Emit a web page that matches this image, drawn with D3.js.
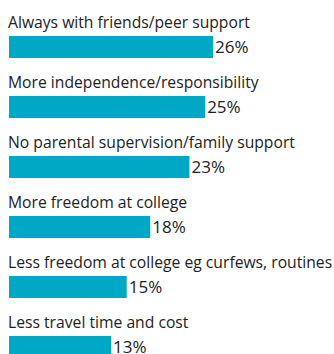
<!DOCTYPE html>
<html>
<head>
<meta charset="utf-8">
<script src="https://cdn.jsdelivr.net/npm/d3@7"></script>
<style>
  html, body { margin: 0; padding: 0; background: #fff; }
  svg { display: block; }
  text { font-family: "Open Sans", "Noto Sans", sans-serif; fill: #222; }
</style>
</head>
<body>
<div id="chart"></div>
<script>
// Reasons given, share of respondents (%)
const categories = [
  "Always with friends/peer support",
  "More independence/responsibility",
  "No parental supervision/family support",
  "More freedom at college",
  "Less freedom at college eg curfews, routines",
  "Less travel time and cost"
];
const values = [26, 25, 23, 18, 15, 13];
const valueLabels = ["26%", "25%", "23%", "18%", "15%", "13%"];

const width = 334, height = 354;
const barColor = "#00a8c6";

const svg = d3.select("#chart").append("svg")
  .attr("width", width)
  .attr("height", height);

// One row per category: label above, bar below
const y = d3.scaleBand()
  .domain(categories)
  .range([36, 358])
  .paddingInner(38 / 60)
  .paddingOuter(0);

const x = d3.scaleLinear()
  .domain([0, 26])
  .range([9, 213]);

const rows = svg.selectAll("g.row")
  .data(categories.map((c, i) => ({ c, v: values[i], label: valueLabels[i] })))
  .join("g")
  .attr("class", "row");

rows.append("text")
  .attr("class", "cat")
  .attr("x", 8)
  .attr("y", d => y(d.c) - 8.5)
  .attr("font-size", 15.7)
  .text(d => d.c);

rows.append("rect")
  .attr("x", x(0))
  .attr("y", d => y(d.c))
  .attr("width", d => x(d.v) - x(0))
  .attr("height", y.bandwidth())
  .attr("fill", barColor);

rows.append("text")
  .attr("class", "val")
  .attr("x", d => x(d.v) + 2)
  .attr("y", d => y(d.c) + 16.5)
  .attr("font-size", 17)
  .text(d => d.label);
</script>
</body>
</html>
